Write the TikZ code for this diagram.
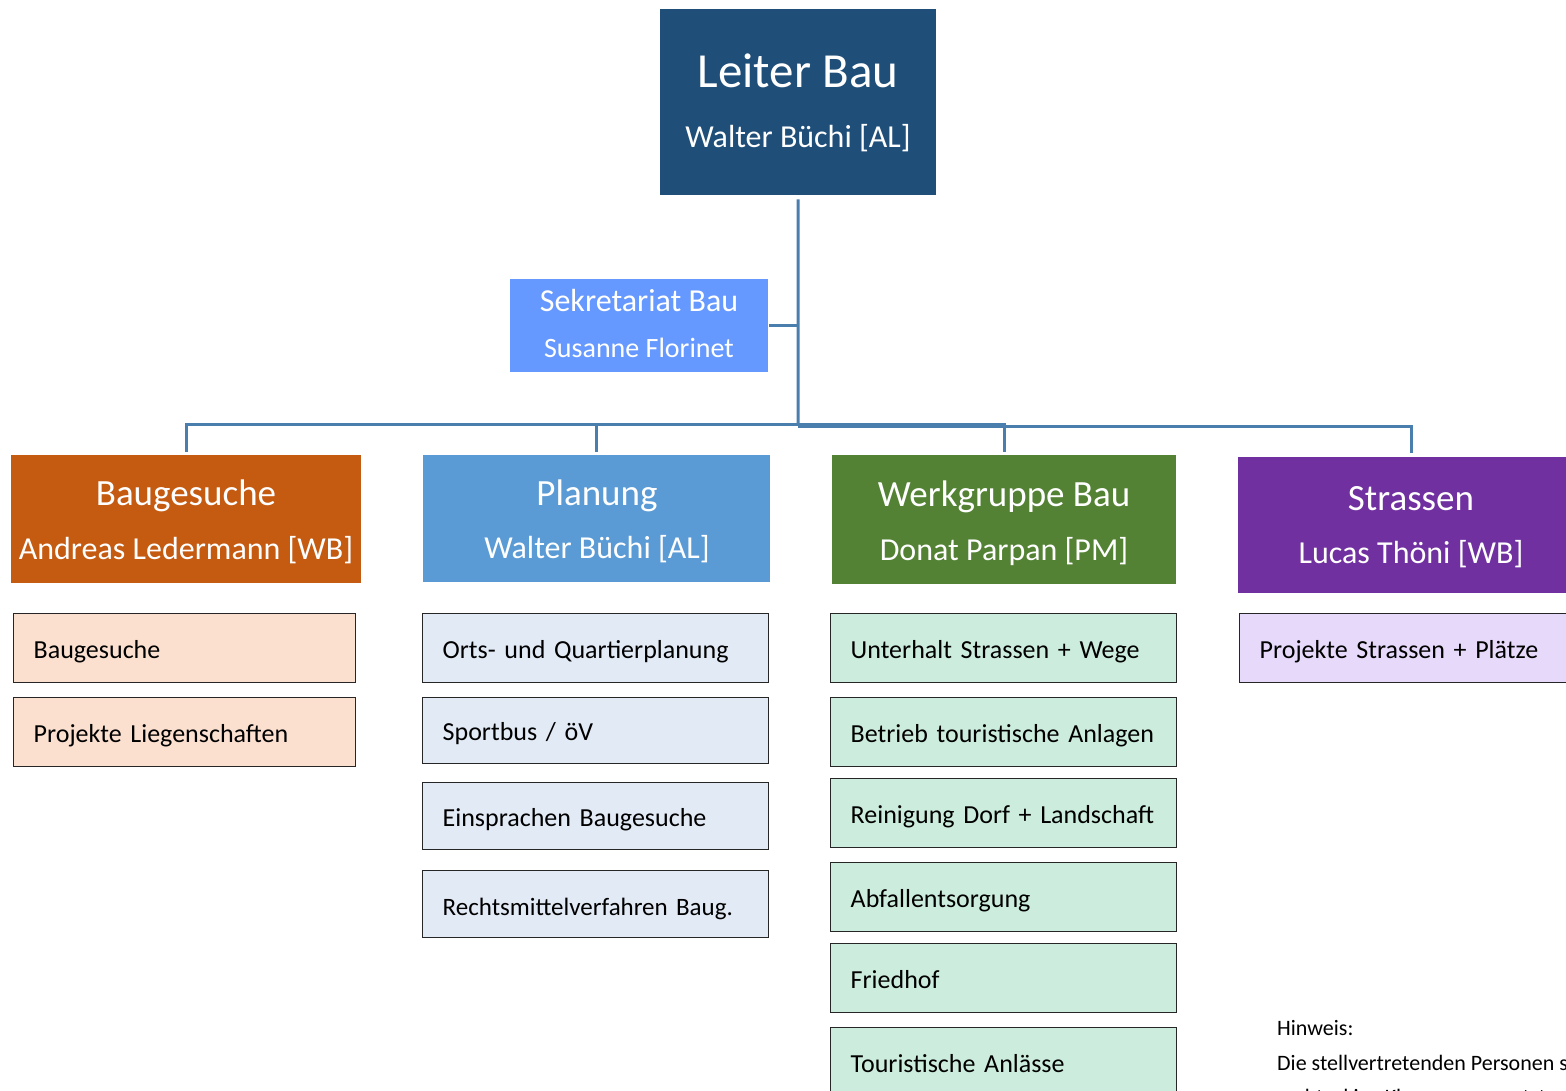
\documentclass[tikz,border=0pt]{standalone}
\usepackage{fontspec}
\setmainfont{Carlito}
\usetikzlibrary{positioning,calc}

\definecolor{leiterblau}{HTML}{1F4E79}
\definecolor{sekblau}{HTML}{6699FF}
\definecolor{baugesuchorange}{HTML}{C55A11}
\definecolor{planungblau}{HTML}{5B9BD5}
\definecolor{werkgruen}{HTML}{548235}
\definecolor{strassenlila}{HTML}{7030A0}
\definecolor{baugesuchhell}{HTML}{FBE0D0}
\definecolor{planunghell}{HTML}{E2EAF6}
\definecolor{werkhell}{HTML}{CCEDDD}
\definecolor{strassenhell}{HTML}{E7D9FA}
\definecolor{linie}{HTML}{4A7EAC}

\tikzset{
    abteilung/.style={rectangle, inner sep=0pt, anchor=north west},
    kopf/.style={text=white, anchor=base, inner sep=0pt, font=\fontsize{37}{42}\selectfont},
    person/.style={text=white, anchor=base, inner sep=0pt, font=\fontsize{32}{36}\selectfont},
    aufgabe/.style={rectangle, anchor=north west, draw=black!85, line width=1.4pt, inner ysep=0pt, inner xsep=20pt,
        minimum height=69, align=left, text height=22pt, text depth=2pt, font=\fontsize{26}{30}\selectfont},
    hinweiszeile/.style={anchor=base west, inner sep=0pt, font=\fontsize{22}{26}\selectfont},
    verbindung/.style={draw=linie, line width=3pt},
}

\begin{document}
\begin{tikzpicture}[x=1pt, y=-1pt]
    \useasboundingbox (0,0) rectangle (1566,1091);

    % Leitung
    \node[abteilung, fill=leiterblau, minimum width=276, minimum height=186] (leiter) at (660,9) {};
    \node[kopf, font=\fontsize{49}{56}\selectfont] (leitertitel) at (798,88) {Leiter Bau};
    \node[person] (leiterperson) at (798,148) {Walter Büchi [AL]};

    \node[abteilung, fill=sekblau, minimum width=258, minimum height=93] (sekretariat) at (510,279) {};
    \node[person] (sekretariattitel) at (639,312) {Sekretariat Bau};
    \node[person, font=\fontsize{28}{32}\selectfont] (sekretariatperson) at (639,357) {Susanne Florinet};

    % Abteilungen
    \node[abteilung, fill=baugesuchorange, minimum width=350, minimum height=128] (baugesuche) at (11,455) {};
    \node[kopf] (baugesuchetitel) at (186,505) {Baugesuche};
    \node[person] (baugesucheperson) at (186,559) {Andreas Ledermann [WB]};

    \node[abteilung, fill=planungblau, minimum width=347, minimum height=127] (planung) at (423,455) {};
    \node[kopf] (planungtitel) at (597,505) {Planung};
    \node[person] (planungperson) at (597,558) {Walter Büchi [AL]};

    \node[abteilung, fill=werkgruen, minimum width=344, minimum height=129] (werkgruppe) at (832,455) {};
    \node[kopf] (werkgruppetitel) at (1004,506) {Werkgruppe Bau};
    \node[person] (werkgruppeperson) at (1004,560) {Donat Parpan [PM]};

    \node[abteilung, fill=strassenlila, minimum width=346, minimum height=136] (strassen) at (1238,457) {};
    \node[kopf] (strassentitel) at (1411,510) {Strassen};
    \node[person] (strassenperson) at (1411,563) {Lucas Thöni [WB]};

    % Verbindungen
    \coordinate (bus) at (798,424);
    \draw[verbindung] ([yshift=-4pt]leiter.south) -- (bus);
    \draw[verbindung] ([xshift=1pt]sekretariat.east) -- (sekretariat.east -| bus);
    \draw[verbindung] ([yshift=3pt]baugesuche.north) |- (werkgruppe.north |- bus) -- ([yshift=3pt]werkgruppe.north);
    \draw[verbindung] ([yshift=3pt]planung.north) -- (planung.north |- bus);
    \draw[verbindung] ([yshift=-2pt]bus) -| ([yshift=4pt]strassen.north);

    % Aufgaben Baugesuche
    \node[aufgabe, fill=baugesuchhell, minimum width=342, text width=302] (bau1) at (13,613) {Baugesuche};
    \node[aufgabe, fill=baugesuchhell, minimum width=342, text width=302] (bau2) at (13,697) {Projekte Liegenschaften};

    % Aufgaben Planung
    \node[aufgabe, fill=planunghell, minimum width=346, text width=306] (plan1) at (422,613) {Orts- und Quartierplanung};
    \node[aufgabe, fill=planunghell, minimum width=346, text width=306, minimum height=66] (plan2) at (422,697) {Sportbus / öV};
    \node[aufgabe, fill=planunghell, minimum width=346, text width=306, minimum height=67] (plan3) at (422,782) {Einsprachen Baugesuche};
    \node[aufgabe, fill=planunghell, minimum width=346, text width=306, minimum height=67, text height=25pt,
        font=\fontsize{25}{30}\selectfont] (plan4) at (422,870) {Rechtsmittelverfahren Baug.};

    % Aufgaben Werkgruppe
    \node[aufgabe, fill=werkhell, minimum width=346, text width=306] (werk1) at (830,613) {Unterhalt Strassen + Wege};
    \node[aufgabe, fill=werkhell, minimum width=346, text width=306] (werk2) at (830,697) {Betrieb touristische Anlagen};
    \node[aufgabe, fill=werkhell, minimum width=346, text width=306] (werk3) at (830,778) {Reinigung Dorf + Landschaft};
    \node[aufgabe, fill=werkhell, minimum width=346, text width=306] (werk4) at (830,862) {Abfallentsorgung};
    \node[aufgabe, fill=werkhell, minimum width=346, text width=306] (werk5) at (830,943) {Friedhof};
    \node[aufgabe, fill=werkhell, minimum width=346, text width=306] (werk6) at (830,1027) {Touristische Anlässe};

    % Aufgaben Strassen
    \node[aufgabe, fill=strassenhell, minimum width=346, text width=306] (strasse1) at (1239,613) {Projekte Strassen + Plätze};

    % Hinweis
    \node[hinweiszeile] (hinweis) at (1277,1035) {Hinweis:};
    \node[hinweiszeile] (hinweiszeile1) at (1277,1070) {Die stellvertretenden Personen sind in};
    \node[hinweiszeile] (hinweiszeile2) at (1277,1104) {rechteckige Klammern gesetzt.};
\end{tikzpicture}
\end{document}
